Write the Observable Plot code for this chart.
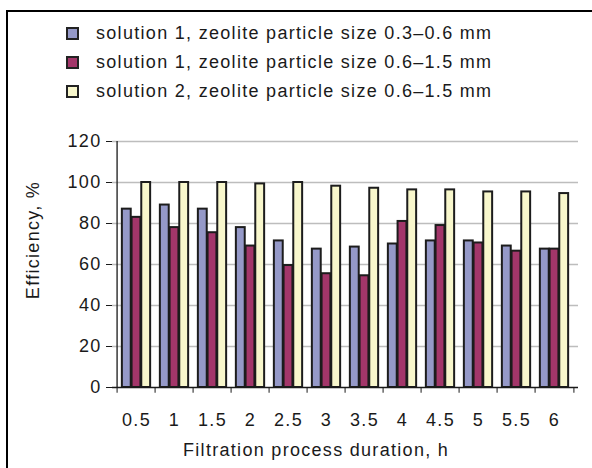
<!DOCTYPE html>
<html><head><meta charset="utf-8">
<script src="https://cdn.jsdelivr.net/npm/d3@7"></script>
<script src="https://cdn.jsdelivr.net/npm/@observablehq/plot@0.6"></script>
<style>
body{margin:0;background:#fff;font-family:"Liberation Sans",Arial,sans-serif;}
#wrap{position:relative;width:592px;height:468px;overflow:hidden;background:#fff}
#frame{position:absolute;left:6px;top:10px;width:600px;height:500px;border-top:2px solid #000;border-left:2px solid #000;}
#legend{position:absolute;left:66px;top:19px;font-size:18px;letter-spacing:1.3px;color:#1a1a1a}
.row{display:flex;align-items:center;height:29px;white-space:nowrap}
.sw{width:9px;height:9px;border:2px solid #222;margin-right:17px}
#chart{position:absolute;left:0;top:118px}
.title{position:absolute;font-size:18px;letter-spacing:1.3px;color:#1a1a1a;white-space:nowrap}
#ytitle{left:33px;top:240px;transform:translate(-50%,-50%) rotate(-90deg)}
#xtitle{left:183px;top:440px}
</style></head>
<body><div id="wrap"><div id="frame"></div><div id="legend"></div><div id="chart"></div>
<div class="title" id="ytitle"></div><div class="title" id="xtitle"></div></div>
<script>
const hours = ["0.5","1","1.5","2","2.5","3","3.5","4","4.5","5","5.5","6"];
const seriesNames = [
  "solution 1, zeolite particle size 0.3\u20130.6 mm",
  "solution 1, zeolite particle size 0.6\u20131.5 mm",
  "solution 2, zeolite particle size 0.6\u20131.5 mm"
];
const sol1Small = [87, 89, 87, 78, 71.5, 67.5, 68.5, 70, 71.5, 71.5, 69, 67.5];
const sol1Large = [83, 78, 75.5, 69, 59.5, 55.5, 54.5, 81, 79, 70.5, 66.5, 67.5];
const sol2Large = [100, 100, 100, 99.3, 100, 98.2, 97.2, 96.4, 96.4, 95.4, 95.4, 94.6];
const yTicks = [0, 20, 40, 60, 80, 100, 120];
const colors = ["#9599c8", "#a3366a", "#f8f7cc"];
const yTitle = "Efficiency, %";
const xTitle = "Filtration process duration, h";

const values = [sol1Small, sol1Large, sol2Large];
const table = hours.flatMap((h, j) => seriesNames.map((s, i) => ({hour: h, series: i, value: values[i][j]})));

// legend
const leg = document.getElementById("legend");
seriesNames.forEach((s, i) => {
  const r = document.createElement("div"); r.className = "row";
  const sw = document.createElement("div"); sw.className = "sw"; sw.style.background = colors[i];
  const t = document.createElement("span"); t.textContent = s;
  r.appendChild(sw); r.appendChild(t); leg.appendChild(r);
});
document.getElementById("ytitle").textContent = yTitle;
document.getElementById("xtitle").textContent = xTitle;

const W = 592, H = 350, ML = 112, MR = 14, MT = 23, MB = 81;
const step = (W - ML - MR) / hours.length;
const barW = 9.7;
const inset = (step - barW) / 2;
const ink = "#1a1a1a";

const marks = [
  Plot.ruleY(yTicks.filter(d => d > 0), {stroke: "#bdbdbd", strokeWidth: 1.6}),
  ...seriesNames.map((s, i) => Plot.barY(table.filter(d => d.series === i), {
    x: "hour", y: "value", fill: colors[i], stroke: "#1c1c1c", strokeWidth: 2,
    dx: (i - 1) * barW, insetLeft: inset, insetRight: inset
  })),
  Plot.ruleY([0], {stroke: ink, strokeWidth: 1.3}),
  Plot.ruleX([hours[0]], {y1: 0, y2: 120, dx: -step / 2, stroke: ink, strokeWidth: 1.3}),
  Plot.ruleX(hours, {y1: 0, y2: -2.8, dx: -step / 2, stroke: ink, strokeWidth: 1}),
  Plot.ruleX([hours[hours.length - 1]], {y1: 0, y2: -2.8, dx: step / 2, stroke: ink, strokeWidth: 1}),
  Plot.axisY({ticks: yTicks, tickSize: 6, tickPadding: 5, fontSize: 18, label: null, stroke: ink, fill: ink}),
  Plot.axisX({tickSize: 0, tickPadding: 26, fontSize: 18, label: null, fill: ink})
];

const chart = Plot.plot({
  width: W, height: H,
  marginLeft: ML, marginRight: MR, marginTop: MT, marginBottom: MB,
  style: {fontFamily: "'Liberation Sans', Arial, sans-serif", fontSize: "18px", letterSpacing: "1.3px", color: ink, background: "transparent", overflow: "visible"},
  x: {domain: hours, padding: 0, axis: null},
  y: {domain: [0, 120], axis: null},
  marks
});
document.getElementById("chart").appendChild(chart);
</script>
</body></html>
